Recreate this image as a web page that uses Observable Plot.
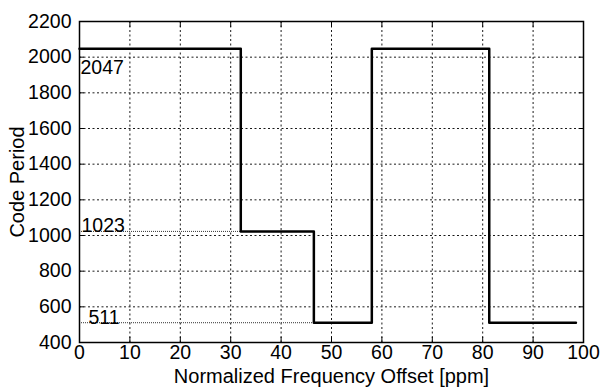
<!DOCTYPE html>
<html><head><meta charset="utf-8">
<script src="https://cdn.jsdelivr.net/npm/d3@7"></script>
<script src="https://cdn.jsdelivr.net/npm/@observablehq/plot@0.6"></script>
<style>
html,body{margin:0;padding:0;background:#fff}
#chart svg{display:block}
</style>
</head><body><div id="chart"></div>
<script>
// Frequency offset (ppm) where each step begins, and the code period held on it
const stepStart = [0, 32, 46.5, 58, 81.3];
const stepEnd = 98.5;
const codePeriod = [2047, 1023, 511, 2047, 511];

// Axis ticks
const xTicks = [0, 10, 20, 30, 40, 50, 60, 70, 80, 90, 100];
const yTicks = [400, 600, 800, 1000, 1200, 1400, 1600, 1800, 2000, 2200];

// Annotated code period levels
const levelValues = [2047, 1023, 511];
const levelLabels = ["2047", "1023", "511"];

const steps = stepStart
  .map((x, i) => ({x, y: codePeriod[i]}))
  .concat([{x: stepEnd, y: codePeriod[codePeriod.length - 1]}]);

// Each level's guide runs from the left edge to where that level is first reached
const levels = levelValues.map((v, i) => ({
  v, label: levelLabels[i], x2: stepStart[codePeriod.indexOf(v)]
}));

const font = "'Liberation Sans', Arial, Helvetica, sans-serif";
const fs = 19.5;
const titleSize = 20;

const chart = Plot.plot({
  width: 604,
  height: 387,
  marginLeft: 79,
  marginRight: 21,
  marginTop: 21,
  marginBottom: 45,
  style: {fontFamily: font, fontSize: fs + "px", color: "#000", background: "#fff"},
  x: {domain: [0, 100], ticks: xTicks},
  y: {domain: [400, 2200], ticks: yTicks},
  marks: [
    Plot.gridX(xTicks, {stroke: "#000", strokeOpacity: 0.9, strokeDasharray: "2,2.5"}),
    Plot.gridY(yTicks, {stroke: "#000", strokeOpacity: 0.9, strokeDasharray: "2,2.5"}),
    // dotted guides to the 1023 and 511 levels
    Plot.ruleY(levels.filter(d => d.x2 > 0), {y: "v", x1: 0, x2: "x2", stroke: "#333", strokeDasharray: "1,1"}),
    // inward tick marks on all four sides
    Plot.axisX(xTicks, {anchor: "bottom", tickSize: -5, tickFormat: () => "", label: null}),
    Plot.axisX(xTicks, {anchor: "top", tickSize: -5, tickFormat: () => "", label: null}),
    Plot.axisY(yTicks, {anchor: "left", tickSize: -5, tickFormat: () => "", label: null}),
    Plot.axisY(yTicks, {anchor: "right", tickSize: -5, tickFormat: () => "", label: null}),
    // tick labels
    Plot.axisX(xTicks, {anchor: "bottom", tickSize: 0, tickPadding: 3, tickFormat: d3.format("d"), label: null}),
    Plot.axisY(yTicks, {anchor: "left", tickSize: 0, tickPadding: 8, tickFormat: d3.format("d"), label: null}),
    // axis titles
    Plot.axisX([], {anchor: "bottom", tickSize: 0, label: "Normalized Frequency Offset [ppm]", labelAnchor: "center", labelArrow: "none", labelOffset: 40, fontSize: titleSize}),
    Plot.axisY([], {anchor: "left", tickSize: 0, label: "Code Period", labelAnchor: "center", labelArrow: "none", labelOffset: 70, fontSize: titleSize}),
    Plot.frame({stroke: "#000", strokeWidth: 1.5}),
    Plot.line(steps, {x: "x", y: "y", curve: "step-after", stroke: "#000", strokeWidth: 2.5}),
    Plot.text(levels.slice(0, 1), {x: 0, y: "v", text: "label", textAnchor: "start", lineAnchor: "middle", dx: 1, dy: 19, fill: "#000"}),
    Plot.text(levels.slice(1, 2), {x: 0, y: "v", text: "label", textAnchor: "start", lineAnchor: "middle", dx: 2, dy: -6, fill: "#000"}),
    Plot.text(levels.slice(2, 3), {x: 0, y: "v", text: "label", textAnchor: "start", lineAnchor: "middle", dx: 9, dy: -5, fill: "#000"})
  ]
});
document.getElementById("chart").appendChild(chart);
</script>
</body></html>
